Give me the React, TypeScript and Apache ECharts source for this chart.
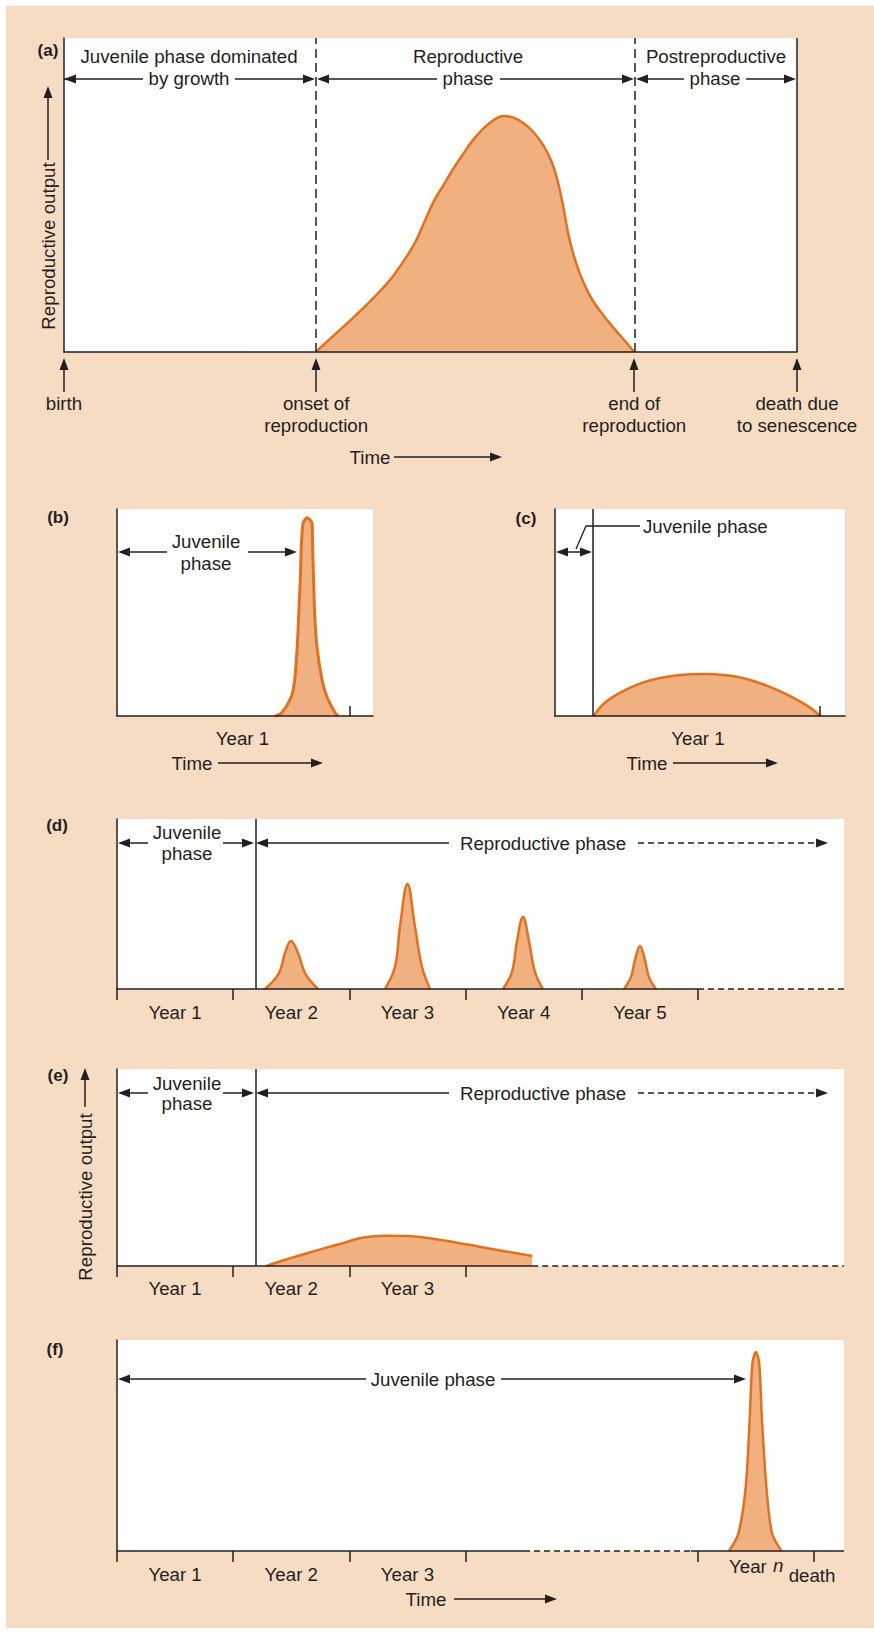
import React, { useEffect, useRef } from 'react';
import * as echarts from 'echarts';

const INK = '#231f20';
const BEIGE = '#f7dcc4';
const ORANGE = '#e2711f';
const FILL = '#f0b07f';
const FONT = '"Liberation Sans", Arial, Helvetica, sans-serif';
const FS = 18.7;

// ---------- (a) lifetime, time in % of lifespan, output in % of panel ----------
const aTime = [34.33, 36.74, 39.47, 42.20, 44.93, 47.66, 49.02, 50.39, 51.75, 53.11, 54.48, 55.84, 57.21, 58.57, 59.94,
  61.30, 62.67, 64.03, 65.39, 66.53, 67.44, 68.12, 68.80, 69.49, 70.40, 71.76, 73.12, 74.94, 76.53, 77.81];
const aOutput = [0, 5.11, 10.97, 17.15, 24.28, 33.87, 40.58, 47.71, 53.04, 58.36, 63.15, 67.63, 71.14, 73.80, 75.19,
  74.65, 72.95, 70.07, 65.81, 60.49, 53.57, 46.11, 37.59, 31.20, 24.81, 17.89, 13.10, 7.77, 3.51, 0];
const aEventTimes = [0, 34.4, 77.8, 100];
const aEventLabels = ['birth', 'onset of\nreproduction', 'end of\nreproduction', 'death due\nto senescence'];
const aOnset = 34.4;
const aEnd = 77.8;
const aDeath = 100;

// ---------- (b) annual, single short burst ----------
const bTime = [61.8, 64.2, 68.1, 69.4, 70.4, 71.0, 71.6, 72.0, 72.7, 74.2, 76.2, 76.4, 76.8, 77.2, 78.1, 80.1, 82.0, 85.3, 86.4];
const bOutput = [0, 1.3, 9.3, 17.4, 33.5, 49.6, 65.7, 81.8, 93.1, 95.8, 93.1, 81.8, 65.7, 49.6, 33.5, 17.4, 9.3, 1.3, 0];
const bYearEnd = [91];
const bYearLabelAt = [49];

// ---------- (c) annual, long low output ----------
const cTime = [13.3, 14.37, 16.67, 20.11, 24.71, 30.46, 36.21, 43.10, 51.15, 59.20, 66.09, 72.99, 79.89, 85.63, 89.08, 91.38];
const cOutput = [0, 2.09, 5.80, 9.34, 12.88, 16.26, 18.36, 19.81, 20.29, 19.65, 17.87, 14.65, 10.47, 6.12, 2.90, 0];
const cJuvenileEnd = 13.1;
const cYearEnd = [91.4];
const cYearLabelAt = [49.3];

// ---------- (d) iteroparous, seasonal (time in years) ----------
const yearsMax = 6.257;
const dJuvenileEnd = 1.188;
const dYear2Time = [1.274, 1.394, 1.446, 1.497, 1.558, 1.618, 1.730];
const dYear2Output = [0, 9.4, 21.2, 28.2, 21.2, 9.4, 0];
const dYear3Time = [2.306, 2.392, 2.435, 2.5, 2.565, 2.625, 2.694];
const dYear3Output = [0, 12.9, 36.5, 61.8, 36.5, 12.9, 0];
const dYear4Time = [3.322, 3.399, 3.442, 3.494, 3.546, 3.597, 3.666];
const dYear4Output = [0, 10, 28, 42.4, 28, 10, 0];
const dYear5Time = [4.363, 4.423, 4.458, 4.501, 4.544, 4.578, 4.639];
const dYear5Output = [0, 7, 17, 25.3, 17, 7, 0];
const dSolidSpan = [0, 5];
const dDashedSpan = [5, yearsMax];
const dTicks = [0, 1, 2, 3, 4, 5];
const dYearLabelAt = [0.5, 1.5, 2.5, 3.5, 4.5];

// ---------- (e) iteroparous, continuous ----------
const eJuvenileEnd = 1.188;
const eTime = [1.286, 1.440, 1.584, 1.751, 1.919, 2.111, 2.303, 2.495, 2.687, 2.927, 3.119, 3.358, 3.574];
const eOutput = [0, 3.05, 5.58, 8.46, 11.17, 14.3, 15.40, 15.23, 14.04, 11.84, 9.81, 7.27, 5.08];
const eSolidSpan = [0, 3.574];
const eDashedSpan = [3.574, yearsMax];
const eTicks = [0, 1, 2, 3];
const eYearLabelAt = [0.5, 1.5, 2.5];

// ---------- (f) semelparous, long-lived ----------
const fTime = [5.267, 5.349, 5.411, 5.445, 5.469, 5.498, 5.527, 5.551, 5.589, 5.637, 5.719];
const fOutput = [0, 8.5, 30.3, 62.1, 89.1, 94.3, 89.1, 62.1, 30.3, 8.5, 0];
const fSolidSpan1 = [0, 3.503];
const fDashedSpan = [3.503, 4.94];
const fSolidSpan2 = [4.94, yearsMax];
const fTicks = [0, 1, 2, 3, 5, 6];
const fYearLabelAt = [0.5, 1.5, 2.5];

const zip = (xs: number[], ys: number[]) => xs.map((x, i) => [x, ys[i]]);

function curve(gi: number, xs: number[], ys: number[], smooth: number, width: number, extra: any = {}) {
  return {
    type: 'line', xAxisIndex: gi, yAxisIndex: gi, data: zip(xs, ys), smooth,
    symbol: 'none', showSymbol: false, silent: true, z: 2,
    lineStyle: { color: ORANGE, width, join: 'round' },
    areaStyle: { color: FILL, opacity: 1 },
    ...extra,
  };
}
function baseline(gi: number, span: number[], dashed: boolean) {
  return {
    type: 'line', xAxisIndex: gi, yAxisIndex: gi, data: span.map((x) => [x, 0]),
    symbol: 'none', showSymbol: false, silent: true, z: 4, clip: false,
    lineStyle: { color: INK, width: 1.5, type: dashed ? [6, 4] : 'solid' },
  };
}
function vmark(values: number[], dashed: boolean[]) {
  return {
    silent: true, symbol: ['none', 'none'], label: { show: false }, animation: false,
    data: values.map((v, i) => ({ xAxis: v, lineStyle: { color: INK, width: 1.5, type: dashed[i] ? [9, 5] : 'solid' } })),
  };
}
const labelStyle = { color: INK, fontSize: FS, fontFamily: FONT, lineHeight: 22 };
function xAx(gi: number, min: number, max: number, o: any) {
  return {
    gridIndex: gi, type: 'value', min, max, z: 5,
    splitLine: { show: false },
    axisLine: { show: !!o.line, onZero: false, lineStyle: { color: INK, width: 1.5 } },
    axisTick: o.ticks
      ? { show: true, customValues: o.ticks, inside: !!o.inside, length: o.len, lineStyle: { color: INK, width: 1.5 } }
      : { show: false },
    axisLabel: o.labels
      ? { show: true, customValues: o.labels, formatter: o.fmt, margin: o.margin, showMinLabel: true, showMaxLabel: true, ...labelStyle }
      : { show: false },
  };
}
function yAx(gi: number) {
  return {
    gridIndex: gi, type: 'value', min: 0, max: 100, z: 5,
    axisLine: { show: true, onZero: false, lineStyle: { color: INK, width: 1.5 } },
    axisTick: { show: false }, axisLabel: { show: false }, splitLine: { show: false },
  };
}

// ---------- annotation helpers ----------
function head(x: number, y: number, dir: string) {
  const L = 12, W = 4.5;
  let pts: number[][];
  if (dir === 'l') pts = [[x, y], [x + L, y - W], [x + L, y + W]];
  else if (dir === 'r') pts = [[x, y], [x - L, y - W], [x - L, y + W]];
  else pts = [[x, y], [x - W, y + L], [x + W, y + L]];
  return { type: 'polygon', shape: { points: pts }, style: { fill: INK }, silent: true, z: 100 };
}
function seg(x1: number, y1: number, x2: number, y2: number, dash?: number[]) {
  return { type: 'line', shape: { x1, y1, x2, y2 }, style: { stroke: INK, lineWidth: 1.5, lineDash: dash }, silent: true, z: 100 };
}
function txt(text: string, x: number, y: number, o: any = {}) {
  const weight = o.bold ? 'bold ' : '';
  const italic = o.italic ? 'italic ' : '';
  const size = o.size || (o.bold ? 17 : FS);
  return {
    type: 'text', x, y, rotation: o.rot || 0, silent: true, z: 100,
    style: {
      text, x: 0, y: 0, fill: INK,
      font: `${italic}${weight}${size}px ${FONT}`,
      textAlign: o.align || 'center', verticalAlign: 'middle', textVerticalAlign: 'middle',
    },
  };
}

function buildGraphics() {
  const g: any[] = [];
  // (a)
  g.push(txt('(a)', 48, 50, { bold: true }));
  g.push(txt('Juvenile phase dominated', 189, 56), txt('by growth', 189, 78));
  g.push(seg(64, 79, 143, 79), head(64, 79, 'l'), seg(235, 79, 312, 79), head(315, 79, 'r'));
  g.push(txt('Reproductive', 468, 56), txt('phase', 468, 78));
  g.push(seg(319, 79, 437, 79), head(317, 79, 'l'), seg(500, 79, 631, 79), head(634, 79, 'r'));
  g.push(txt('Postreproductive', 716, 56), txt('phase', 715, 78));
  g.push(seg(638, 79, 684, 79), head(636, 79, 'l'), seg(746, 79, 793, 79), head(796, 79, 'r'));
  g.push(seg(48, 160, 48, 90), head(48, 86, 'u'), txt('Reproductive output', 48, 246, { rot: Math.PI / 2 }));
  [64, 316, 634, 797].forEach((x) => g.push(seg(x, 392, x, 362), head(x, 358, 'u')));
  g.push(txt('Time', 370, 457), seg(394, 457, 498, 457), head(502, 457, 'r'));
  // (b)
  g.push(txt('(b)', 58, 517, { bold: true }));
  g.push(seg(120, 552, 167, 552), head(118, 552, 'l'), seg(248, 552, 294, 552), head(297, 552, 'r'));
  g.push(txt('Juvenile', 206, 541), txt('phase', 206, 563));
  g.push(txt('Time', 192, 763), seg(218, 763, 320, 763), head(323, 763, 'r'));
  // (c)
  g.push(txt('(c)', 526, 518, { bold: true }));
  g.push(seg(558, 552, 590, 552), head(556, 552, 'l'), head(592, 552, 'r'));
  g.push({ type: 'polyline', shape: { points: [[576, 549], [586, 526], [640, 526]] }, style: { stroke: INK, lineWidth: 1.3, fill: null }, silent: true, z: 100 });
  g.push(txt('Juvenile phase', 643, 526, { align: 'left' }));
  g.push(txt('Time', 647, 763), seg(673, 763, 775, 763), head(778, 763, 'r'));
  // (d) and (e) share the phase arrows
  const phaseRow = (y: number, ty1: number, ty2: number) => {
    g.push(seg(120, y, 148, y), head(118, y, 'l'), seg(223, y, 252, y), head(254, y, 'r'));
    g.push(txt('Juvenile', 187, ty1), txt('phase', 187, ty2));
    g.push(seg(258, y, 449, y), head(256, y, 'l'), txt('Reproductive phase', 543, y));
    g.push(seg(638, y, 824, y, [6, 4]), head(828, y, 'r'));
  };
  g.push(txt('(d)', 57, 825, { bold: true }));
  phaseRow(843, 832, 853);
  g.push(txt('(e)', 58, 1075, { bold: true }));
  phaseRow(1093, 1083, 1103);
  g.push(seg(85, 1107, 85, 1072), head(85, 1068, 'u'), txt('Reproductive output', 85, 1197, { rot: Math.PI / 2 }));
  // (f)
  g.push(txt('(f)', 55, 1349, { bold: true }));
  g.push(seg(120, 1379, 366, 1379), head(118, 1379, 'l'), txt('Juvenile phase', 433, 1379));
  g.push(seg(501, 1379, 742, 1379), head(746, 1379, 'r'));
  g.push(txt('Year', 729, 1566, { align: 'left' }), txt('n', 773, 1565, { align: 'left', italic: true }));
  g.push(txt('death', 812, 1575));
  g.push(txt('Time', 426, 1599), seg(454, 1599, 553, 1599), head(557, 1599, 'r'));
  return g;
}

function buildOption() {
  const yearFmt = (v: number) => 'Year ' + (Math.floor(v) + 1);
  return {
    animation: false,
    backgroundColor: 'transparent',
    grid: [
      { left: 64, top: 38, width: 733, height: 314, show: true, backgroundColor: '#ffffff', borderWidth: 0 },
      { left: 117, top: 509, width: 256, height: 207, show: true, backgroundColor: '#ffffff', borderWidth: 0 },
      { left: 555, top: 509, width: 290, height: 207, show: true, backgroundColor: '#ffffff', borderWidth: 0 },
      { left: 117, top: 819, width: 727, height: 170, show: true, backgroundColor: '#ffffff', borderWidth: 0 },
      { left: 117, top: 1069, width: 727, height: 197, show: true, backgroundColor: '#ffffff', borderWidth: 0 },
      { left: 117, top: 1340, width: 727, height: 211, show: true, backgroundColor: '#ffffff', borderWidth: 0 },
    ],
    xAxis: [
      xAx(0, 0, 100, {
        line: true, labels: aEventTimes, margin: 40,
        fmt: (v: number) => aEventLabels[aEventTimes.indexOf(v)] || '',
      }),
      xAx(1, 0, 100, { line: true, ticks: bYearEnd, inside: true, len: 10, labels: bYearLabelAt, margin: 11, fmt: () => 'Year 1' }),
      xAx(2, 0, 100, { line: true, ticks: cYearEnd, inside: true, len: 10, labels: cYearLabelAt, margin: 11, fmt: () => 'Year 1' }),
      xAx(3, 0, yearsMax, { line: false, ticks: dTicks, inside: false, len: 11, labels: dYearLabelAt, margin: 12, fmt: yearFmt }),
      xAx(4, 0, yearsMax, { line: false, ticks: eTicks, inside: false, len: 11, labels: eYearLabelAt, margin: 11, fmt: yearFmt }),
      xAx(5, 0, yearsMax, { line: false, ticks: fTicks, inside: false, len: 11, labels: fYearLabelAt, margin: 12, fmt: yearFmt }),
    ],
    yAxis: [yAx(0), yAx(1), yAx(2), yAx(3), yAx(4), yAx(5)],
    series: [
      curve(0, aTime, aOutput, 0.4, 2.5, { markLine: vmark([aOnset, aEnd, aDeath], [true, true, false]) }),
      curve(1, bTime, bOutput, 0.25, 3),
      curve(2, cTime, cOutput, 0.4, 2.5, { markLine: vmark([cJuvenileEnd], [false]) }),
      curve(3, dYear2Time, dYear2Output, 0.4, 2.5, { markLine: vmark([dJuvenileEnd], [false]) }),
      curve(3, dYear3Time, dYear3Output, 0.4, 2.5),
      curve(3, dYear4Time, dYear4Output, 0.4, 2.5),
      curve(3, dYear5Time, dYear5Output, 0.4, 2.5),
      baseline(3, dSolidSpan, false),
      baseline(3, dDashedSpan, true),
      curve(4, eTime, eOutput, 0.5, 2.5, { markLine: vmark([eJuvenileEnd], [false]) }),
      baseline(4, eSolidSpan, false),
      baseline(4, eDashedSpan, true),
      curve(5, fTime, fOutput, 0.3, 2.5),
      baseline(5, fSolidSpan1, false),
      baseline(5, fDashedSpan, true),
      baseline(5, fSolidSpan2, false),
    ],
    graphic: { elements: buildGraphics() },
  };
}

export default function App() {
  const ref = useRef<HTMLDivElement>(null);
  useEffect(() => {
    if (!ref.current) return;
    const chart = echarts.init(ref.current, null, { renderer: 'svg' });
    chart.setOption(buildOption() as any);
    return () => chart.dispose();
  }, []);
  return (
    <div style={{ position: 'absolute', left: 0, top: 0, width: 874, height: 1632, background: '#ffffff' }}>
      <div style={{ position: 'absolute', left: 6, top: 6, width: 868, height: 1622, background: BEIGE }} />
      <div ref={ref} style={{ position: 'absolute', left: 0, top: 0, width: 874, height: 1632 }} />
    </div>
  );
}
